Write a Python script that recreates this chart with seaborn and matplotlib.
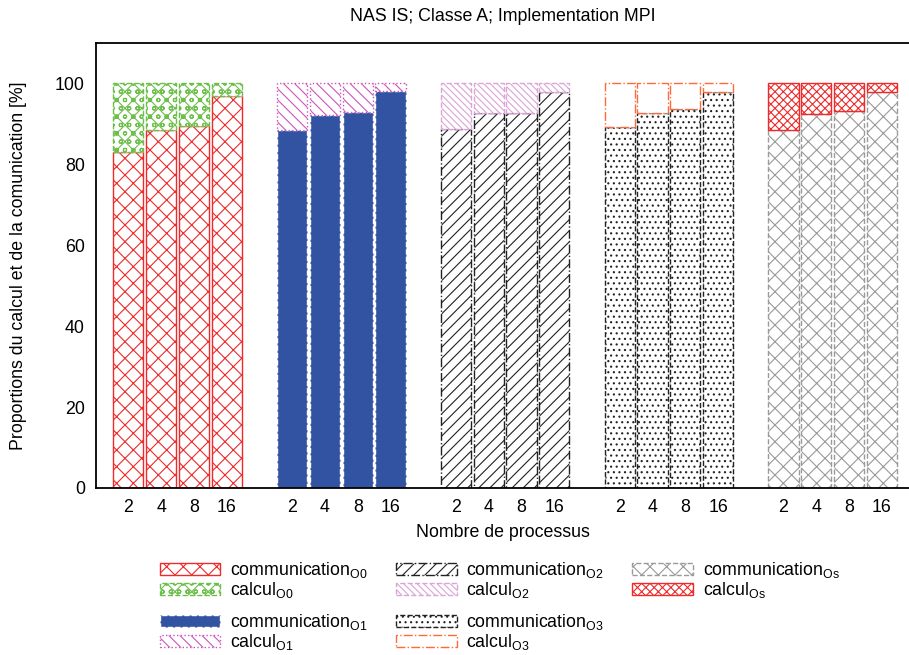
import matplotlib
matplotlib.use("Agg")
import matplotlib.pyplot as plt
from matplotlib.patches import Patch
import seaborn as sns
import pandas as pd

# ---- data ----
procs = ["2", "4", "8", "16"]
levels = ["O0", "O1", "O2", "O3", "Os"]
comm_O0 = [83.0, 88.4, 89.6, 97.0]
comm_O1 = [88.4, 92.3, 92.9, 98.1]
comm_O2 = [88.8, 92.6, 92.8, 97.9]
comm_O3 = [89.2, 92.7, 93.6, 98.0]
comm_Os = [88.6, 92.5, 93.2, 98.0]
calc_O0 = [17.0, 11.6, 10.4, 3.0]
calc_O1 = [11.6, 7.7, 7.1, 1.9]
calc_O2 = [11.2, 7.4, 7.2, 2.1]
calc_O3 = [10.8, 7.3, 6.4, 2.0]
calc_Os = [11.4, 7.5, 6.8, 2.0]

comm = {"O0": comm_O0, "O1": comm_O1, "O2": comm_O2, "O3": comm_O3, "Os": comm_Os}
calc = {"O0": calc_O0, "O1": calc_O1, "O2": calc_O2, "O3": calc_O3, "Os": calc_Os}

sns.set_theme(style="white")
plt.rcParams["font.family"] = ["Liberation Sans", "DejaVu Sans"]
plt.rcParams["mathtext.fontset"] = "custom"
plt.rcParams["mathtext.rm"] = "Liberation Sans"
plt.rcParams["mathtext.it"] = "Liberation Sans:italic"
plt.rcParams["hatch.linewidth"] = 0.8
for k in ["text.color", "axes.labelcolor", "xtick.color", "ytick.color"]:
    plt.rcParams[k] = "black"

FS = 12.8
RED = "#ee2a2a"
styles_comm = {
    "O0": dict(facecolor="white", edgecolor=RED, hatch="xx", linestyle="-"),
    "O1": dict(facecolor="#3253a2", edgecolor="white", hatch=None, linestyle="--"),
    "O2": dict(facecolor="white", edgecolor="#222222", hatch="///", linestyle="-."),
    "O3": dict(facecolor="white", edgecolor="#222222", hatch="...", linestyle="--"),
    "Os": dict(facecolor="white", edgecolor="#9a9a9a", hatch="xx", linestyle="--"),
}
styles_calc = {
    "O0": dict(facecolor="white", edgecolor="#6cbf4a", hatch="xxoo", linestyle="--"),
    "O1": dict(facecolor="white", edgecolor="#cc55bb", hatch="\\\\\\", linestyle=":"),
    "O2": dict(facecolor="white", edgecolor="#dba5d6", hatch="\\\\\\\\\\", linestyle="--"),
    "O3": dict(facecolor="white", edgecolor="#ff6a3d", hatch=None, linestyle="-."),
    "Os": dict(facecolor="white", edgecolor=RED, hatch="xxxx", linestyle="-"),
}

fig = plt.figure(figsize=(9.09, 6.55), dpi=100)
W, H = 909, 655
ax = fig.add_axes([96 / W, 1 - 488 / H, (W - 96) / W, (488 - 43) / H])

tick_pos, tick_lab = [], []
for g, lev in enumerate(levels):
    pos = [g * 5 + i for i in range(4)]
    df = pd.DataFrame({"pos": pos, "comm": comm[lev], "calc": calc[lev]})
    sc = styles_comm[lev]
    sns.barplot(data=df, x="pos", y="comm", native_scale=True, width=0.92,
                errorbar=None, ax=ax, color=sc["facecolor"], linewidth=1.0, **sc)
    st = styles_calc[lev]
    sns.barplot(data=df, x="pos", y="calc", native_scale=True, width=0.92,
                errorbar=None, ax=ax, color=st["facecolor"], linewidth=1.0,
                bottom=df["comm"].values, **st)
    tick_pos += pos
    tick_lab += procs

ax.set_xlim(-0.99, 23.83)
ax.set_ylim(0, 110)
ax.set_xticks(tick_pos)
ax.set_xticklabels(tick_lab)
ax.set_yticks([0, 20, 40, 60, 80, 100])
ax.tick_params(axis="both", length=0, labelsize=FS, pad=8, colors="black")
ax.set_xlabel("Nombre de processus", fontsize=FS, labelpad=6)
ax.set_ylabel("Proportions du calcul et de la comunication [%]", fontsize=FS, labelpad=20)
ax.set_title("NAS IS; Classe A; Implementation MPI", fontsize=FS, pad=16)
for s in ["left", "top", "bottom"]:
    ax.spines[s].set_visible(True)
    ax.spines[s].set_color("black")
    ax.spines[s].set_linewidth(1.3)
ax.spines["right"].set_visible(False)


def handle(st):
    return Patch(facecolor=st["facecolor"], edgecolor=st["edgecolor"],
                 hatch=st["hatch"], linestyle=st["linestyle"], linewidth=1.0)


def lab(kind, lev):
    return kind + r"$_{\mathrm{" + lev + "}}$"


leg_kw = dict(frameon=False, fontsize=FS, handlelength=3.4, handleheight=0.7,
              handletextpad=0.55, columnspacing=1.6, labelspacing=0.0,
              borderpad=0, borderaxespad=0, loc="upper left")

top_levels = ["O0", "O2", "Os"]
h1, l1 = [], []
for lev in top_levels:
    h1 += [handle(styles_comm[lev]), handle(styles_calc[lev])]
    l1 += [lab("communication", lev), lab("calcul", lev)]
leg1 = fig.legend(h1, l1, ncol=3, bbox_to_anchor=(160 / W, 1 - 560 / H), **leg_kw)

bot_levels = ["O1", "O3"]
h2, l2 = [], []
for lev in bot_levels:
    h2 += [handle(styles_comm[lev]), handle(styles_calc[lev])]
    l2 += [lab("communication", lev), lab("calcul", lev)]
leg2 = fig.legend(h2, l2, ncol=2, bbox_to_anchor=(160 / W, 1 - 612 / H), **leg_kw)

fig.savefig("out.png", dpi=100)
